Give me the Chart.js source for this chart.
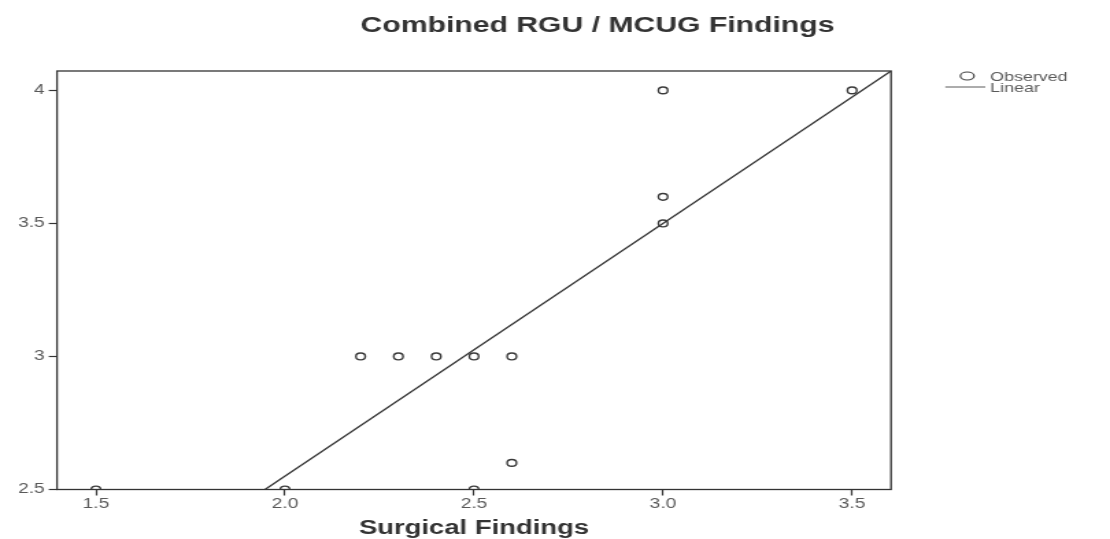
<!DOCTYPE html>
<html><head><meta charset="utf-8">
<script src="https://cdn.jsdelivr.net/npm/chart.js@4"></script>
<style>html,body{margin:0;padding:0;background:#fff;}canvas{display:block;}</style>
</head><body>
<canvas id="c" width="810" height="539" style="width:1110px;height:539px;"></canvas>
<script>
const chartTitle = 'Combined RGU / MCUG Findings';
const xAxisTitle = 'Surgical Findings';
const observedLabel = 'Observed';
const linearLabel = 'Linear';
const observedX = [1.5, 2.0, 2.5, 2.6, 2.2, 2.3, 2.4, 2.5, 2.6, 3.0, 3.0, 3.0, 3.5];
const observedY = [2.5, 2.5, 2.5, 2.6, 3.0, 3.0, 3.0, 3.0, 3.0, 3.5, 3.6, 4.0, 4.0];
const linearX = [1.947, 3.603];
const linearY = [2.5, 4.073];
const xTicks = [1.5, 2.0, 2.5, 3.0, 3.5];
const xTickLabels = ['1.5', '2.0', '2.5', '3.0', '3.5'];
const yTicks = [2.5, 3, 3.5, 4];
const yTickLabels = ['2.5', '3', '3.5', '4'];
const xRange = [1.397, 3.603];
const yRange = [2.5, 4.073];

const FONT = '"Liberation Sans", Arial, sans-serif';
const INK = '#333';
const GREY = '#5a5a5a';

const observedPts = observedX.map((x, i) => ({x, y: observedY[i]}));
const linearPts = linearX.map((x, i) => ({x, y: linearY[i]}));

const framePlugin = {
  id: 'frame',
  afterDatasetsDraw(chart) {
    const {ctx, chartArea: a} = chart;
    ctx.save();
    ctx.strokeStyle = INK;
    ctx.lineWidth = 1.3;
    ctx.strokeRect(a.left, a.top, a.right - a.left, a.bottom - a.top);
    ctx.restore();
  }
};

const textPlugin = {
  id: 'texts',
  afterDraw(chart) {
    const ctx = chart.ctx;
    ctx.save();
    // title
    ctx.font = 'bold 22px ' + FONT;
    ctx.fillStyle = INK;
    ctx.textAlign = 'center';
    ctx.textBaseline = 'middle';
    ctx.fillText(chartTitle, 436, 26);
    // legend
    const ds = chart.data.datasets;
    ctx.font = '13px ' + FONT;
    ctx.fillStyle = GREY;
    ctx.textAlign = 'left';
    ctx.strokeStyle = '#444';
    ctx.lineWidth = 1.2;
    ctx.beginPath();
    ctx.ellipse(705.8, 76, 5, 4, 0, 0, Math.PI * 2);
    ctx.stroke();
    ctx.fillText(ds[0].label, 722.6, 77);
    ctx.strokeStyle = GREY;
    ctx.lineWidth = 1;
    ctx.beginPath();
    ctx.moveTo(689.8, 87);
    ctx.lineTo(719, 87);
    ctx.stroke();
    ctx.fillText(ds[1].label, 722.6, 88);
    ctx.restore();
  }
};

new Chart(document.getElementById('c'), {
  type: 'scatter',
  data: {
    datasets: [
      {
        label: observedLabel,
        data: observedPts,
        pointStyle: 'circle',
        pointRadius: 3.4,
        pointBorderWidth: 1.4,
        pointBorderColor: '#3a3a3a',
        pointBackgroundColor: 'rgba(0,0,0,0)',
        showLine: false,
        clip: 0
      },
      {
        label: linearLabel,
        data: linearPts,
        showLine: true,
        borderColor: INK,
        borderWidth: 1.3,
        pointRadius: 0,
        fill: false,
        clip: 0
      }
    ]
  },
  options: {
    responsive: false,
    devicePixelRatio: 1,
    animation: false,
    events: [],
    layout: {padding: {top: 71, right: 159.8, left: 0, bottom: 0}},
    plugins: {
      legend: {display: false},
      title: {display: false},
      tooltip: {enabled: false}
    },
    scales: {
      x: {
        type: 'linear',
        min: xRange[0],
        max: xRange[1],
        afterBuildTicks(scale) { scale.ticks = xTicks.map(v => ({value: v})); },
        afterFit(scale) { scale.height = 49.5; },
        ticks: {
          callback: (v, i) => xTickLabels[i],
          color: GREY,
          font: {family: FONT, size: 14},
          padding: 0,
          maxRotation: 0,
          autoSkip: false
        },
        grid: {display: true, drawOnChartArea: false, drawTicks: true, tickLength: 6, tickColor: INK, tickWidth: 1.2},
        border: {display: false},
        title: {
          display: true,
          text: xAxisTitle,
          color: INK,
          font: {family: FONT, size: 20, weight: 'bold', lineHeight: 1},
          padding: {top: 0, bottom: 1}
        }
      },
      y: {
        type: 'linear',
        min: yRange[0],
        max: yRange[1],
        afterBuildTicks(scale) { scale.ticks = yTicks.map(v => ({value: v})); },
        afterFit(scale) { scale.width = 41.6; },
        ticks: {
          callback: (v, i) => yTickLabels[i],
          color: GREY,
          font: {family: FONT, size: 14},
          padding: 3,
          autoSkip: false
        },
        grid: {display: true, drawOnChartArea: false, drawTicks: true, tickLength: 6, tickColor: INK, tickWidth: 1.2},
        border: {display: false}
      }
    }
  },
  plugins: [framePlugin, textPlugin]
});
</script>
</body></html>
